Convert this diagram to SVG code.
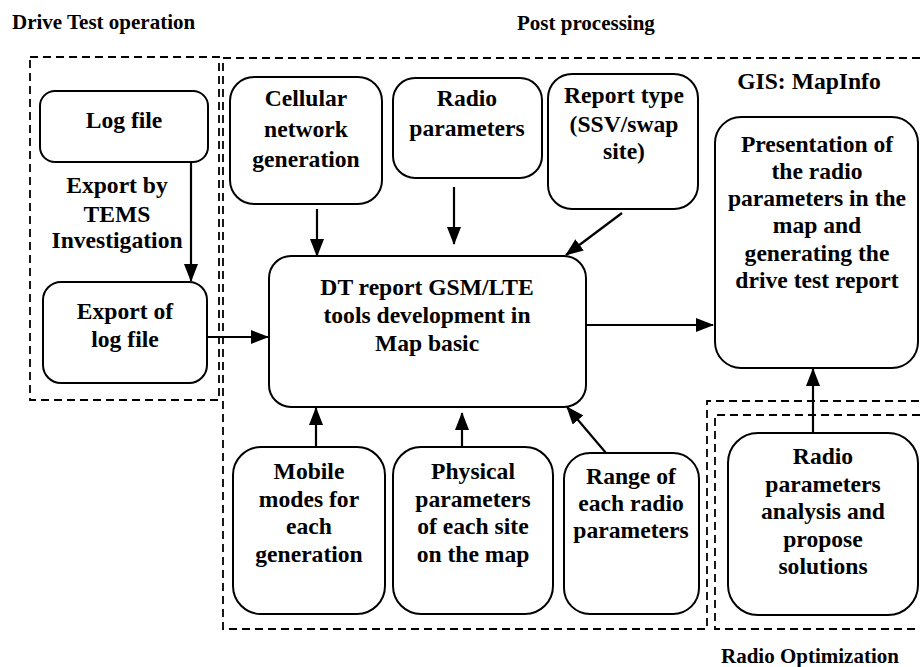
<svg xmlns="http://www.w3.org/2000/svg" width="920" height="667" viewBox="0 0 920 667">
<style>
.box{fill:#fff;stroke:#000;stroke-width:2}
.dash{fill:none;stroke:#000;stroke-width:1.8;stroke-dasharray:8 5}
.t{font-family:"Liberation Serif","Times New Roman",serif;font-weight:bold;font-size:23.6px;text-anchor:middle;fill:#000}
.h{font-family:"Liberation Serif","Times New Roman",serif;font-weight:bold;font-size:21px;fill:#000}
.c{fill:none;stroke:#000;stroke-width:2.2}
</style>
<defs>
<marker id="ah" markerUnits="userSpaceOnUse" markerWidth="18" markerHeight="14" refX="17" refY="7" orient="auto">
<path d="M0,0 L18,7 L0,14 Z" fill="#000"/>
</marker>
</defs>
<rect width="920" height="667" fill="#fff"/>
<g id="regions">
<text class="h" x="12" y="29">Drive Test operation</text>
<text class="h" x="517" y="30">Post processing</text>
<text class="h" x="721" y="663">Radio Optimization</text>
<text class="t" x="809" y="89">GIS: MapInfo</text>
<rect class="dash" x="30" y="57" width="189" height="343"/>
<path class="dash" d="M920,58 H223 V629 H707 V401 H920"/>
<path class="dash" d="M920,415 H715 V629 H920"/>
</g>
<g id="connectors">
<line class="c" x1="191" y1="162" x2="191" y2="281" marker-end="url(#ah)"/>
<line class="c" x1="207" y1="337" x2="268" y2="337" marker-end="url(#ah)"/>
<line class="c" x1="317" y1="209" x2="317" y2="256" marker-end="url(#ah)"/>
<line class="c" x1="454" y1="187" x2="454" y2="244" marker-end="url(#ah)"/>
<line class="c" x1="622" y1="213" x2="566" y2="255" marker-end="url(#ah)"/>
<line class="c" x1="586" y1="325" x2="713" y2="325" marker-end="url(#ah)"/>
<line class="c" x1="316" y1="447" x2="316" y2="408" marker-end="url(#ah)"/>
<line class="c" x1="462" y1="447" x2="462" y2="413" marker-end="url(#ah)"/>
<line class="c" x1="606" y1="453" x2="567" y2="407" marker-end="url(#ah)"/>
<line class="c" x1="813" y1="433" x2="813" y2="369" marker-end="url(#ah)"/>
</g>
<g id="logfile">
<rect class="box" x="40" y="91" width="168" height="71" rx="15"/>
<text class="t" x="124" y="128">Log file</text>
</g>
<g id="export-label">
<text class="t" x="117" y="193">Export by</text>
<text class="t" x="117" y="222">TEMS</text>
<text class="t" x="117" y="248">Investigation</text>
</g>
<g id="exportlog">
<rect class="box" x="43" y="282" width="164" height="101" rx="18"/>
<text class="t" x="125" y="319">Export of</text>
<text class="t" x="125" y="347">log file</text>
</g>
<g id="cellular">
<rect class="box" x="230" y="77" width="152" height="127" rx="24"/>
<text class="t" x="306" y="106">Cellular</text>
<text class="t" x="306" y="137">network</text>
<text class="t" x="306" y="167">generation</text>
</g>
<g id="radioparams">
<rect class="box" x="393" y="78" width="149" height="100" rx="22"/>
<text class="t" x="467" y="106">Radio</text>
<text class="t" x="467" y="136">parameters</text>
</g>
<g id="reporttype">
<rect class="box" x="548" y="74" width="150" height="135" rx="24"/>
<text class="t" x="624" y="103">Report type</text>
<text class="t" x="624" y="132">(SSV/swap</text>
<text class="t" x="624" y="159">site)</text>
</g>
<g id="main">
<rect class="box" x="269" y="256" width="317" height="151" rx="22"/>
<text class="t" x="427" y="295">DT report GSM/LTE</text>
<text class="t" x="427" y="323">tools development in</text>
<text class="t" x="427" y="351">Map basic</text>
</g>
<g id="presentation">
<rect class="box" x="715" y="117" width="203" height="251" rx="26"/>
<text class="t" x="817" y="152">Presentation of</text>
<text class="t" x="817" y="179">the radio</text>
<text class="t" x="817" y="206">parameters in the</text>
<text class="t" x="817" y="233">map and</text>
<text class="t" x="817" y="261">generating the</text>
<text class="t" x="817" y="288">drive test report</text>
</g>
<g id="mobile">
<rect class="box" x="233" y="447" width="152" height="167" rx="28"/>
<text class="t" x="309" y="479">Mobile</text>
<text class="t" x="309" y="507">modes for</text>
<text class="t" x="309" y="534">each</text>
<text class="t" x="309" y="562">generation</text>
</g>
<g id="physical">
<rect class="box" x="393" y="447" width="160" height="167" rx="28"/>
<text class="t" x="473" y="479">Physical</text>
<text class="t" x="473" y="507">parameters</text>
<text class="t" x="473" y="534">of each site</text>
<text class="t" x="473" y="562">on the map</text>
</g>
<g id="range">
<rect class="box" x="564" y="453" width="135" height="161" rx="26"/>
<text class="t" x="631" y="484">Range of</text>
<text class="t" x="631" y="511">each radio</text>
<text class="t" x="631" y="538">parameters</text>
</g>
<g id="analysis">
<rect class="box" x="728" y="433" width="190" height="182" rx="30"/>
<text class="t" x="823" y="464">Radio</text>
<text class="t" x="823" y="492">parameters</text>
<text class="t" x="823" y="519">analysis and</text>
<text class="t" x="823" y="547">propose</text>
<text class="t" x="823" y="574">solutions</text>
</g>
</svg>
